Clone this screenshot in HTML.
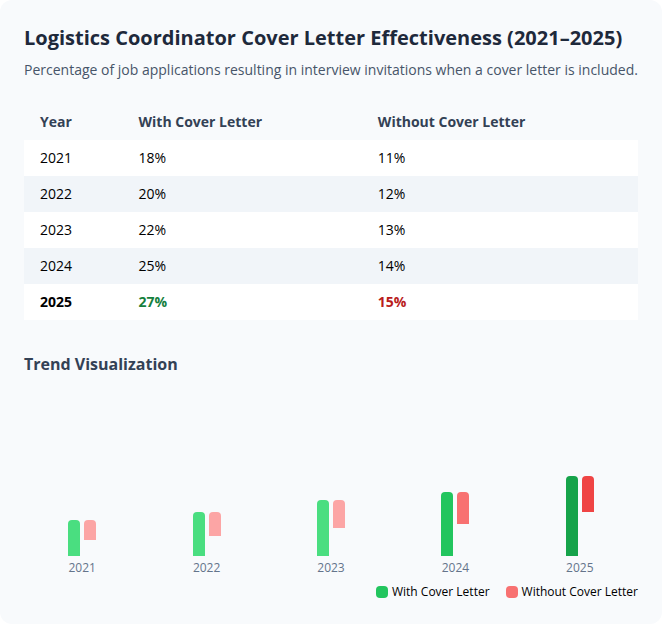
<!DOCTYPE html>
<html>
<head>
<meta charset="utf-8">
<style>
*{box-sizing:border-box;margin:0;padding:0}
html,body{width:662px;height:624px;background:#ffffff;overflow:hidden}
body{font-family:"Open Sans","Liberation Sans",sans-serif;color:#000}
.card{width:662px;height:624px;background:#f8fafc;border-radius:12px;padding:24px}
h1{font-size:20px;line-height:28px;font-weight:700;color:#1e293b}
.sub{font-size:14px;line-height:20px;color:#475569;margin-top:8px}
table{width:100%;border-collapse:collapse;margin-top:24px;font-size:14px;line-height:20px}
th{text-align:left;font-weight:700;color:#334155;padding:8px 16px}
td{padding:8px 16px}
tbody tr{background:#fff}
tbody tr:nth-child(even){background:#f1f5f9}
.b{font-weight:700}
.g{color:#15803d;font-weight:700}
.r{color:#b91c1c;font-weight:700}
h2{font-size:16px;line-height:24px;font-weight:700;color:#334155;margin-top:32px}
.chart{height:200px;display:flex;align-items:flex-end;gap:8px}
.col{flex:1;display:flex;flex-direction:column;align-items:center}
.bars{display:flex;gap:4px}
.bar{width:12px;border-radius:4px 4px 0 0}
.yr{font-size:12px;line-height:16px;color:#64748b;margin-top:4px}
.legend{display:flex;justify-content:flex-end;gap:16px;font-size:12px;line-height:16px;color:#000;margin-top:8px}
.legend span{display:flex;align-items:center}
.sw{width:12px;height:12px;border-radius:4px;margin-right:4px;display:inline-block}
</style>
</head>
<body>
<div class="card">
<h1>Logistics Coordinator Cover Letter Effectiveness (2021–2025)</h1>
<p class="sub">Percentage of job applications resulting in interview invitations when a cover letter is included.</p>
<table>
<thead><tr><th>Year</th><th>With Cover Letter</th><th>Without Cover Letter</th></tr></thead>
<tbody>
<tr><td>2021</td><td>18%</td><td>11%</td></tr>
<tr><td>2022</td><td>20%</td><td>12%</td></tr>
<tr><td>2023</td><td>22%</td><td>13%</td></tr>
<tr><td>2024</td><td>25%</td><td>14%</td></tr>
<tr><td class="b">2025</td><td class="g">27%</td><td class="r">15%</td></tr>
</tbody>
</table>
<h2>Trend Visualization</h2>
<div class="chart">
<div class="col"><div class="bars"><div class="bar" style="height:36px;background:#4ade80"></div><div class="bar" style="height:20px;background:#fca5a5"></div></div><div class="yr">2021</div></div>
<div class="col"><div class="bars"><div class="bar" style="height:44px;background:#4ade80"></div><div class="bar" style="height:24px;background:#fca5a5"></div></div><div class="yr">2022</div></div>
<div class="col"><div class="bars"><div class="bar" style="height:56px;background:#4ade80"></div><div class="bar" style="height:28px;background:#fca5a5"></div></div><div class="yr">2023</div></div>
<div class="col"><div class="bars"><div class="bar" style="height:64px;background:#22c55e"></div><div class="bar" style="height:32px;background:#f87171"></div></div><div class="yr">2024</div></div>
<div class="col"><div class="bars"><div class="bar" style="height:80px;background:#16a34a"></div><div class="bar" style="height:36px;background:#ef4444"></div></div><div class="yr">2025</div></div>
</div>
<div class="legend"><span><i class="sw" style="background:#22c55e"></i>With Cover Letter</span><span><i class="sw" style="background:#f87171"></i>Without Cover Letter</span></div>
</div>
</body>
</html>
